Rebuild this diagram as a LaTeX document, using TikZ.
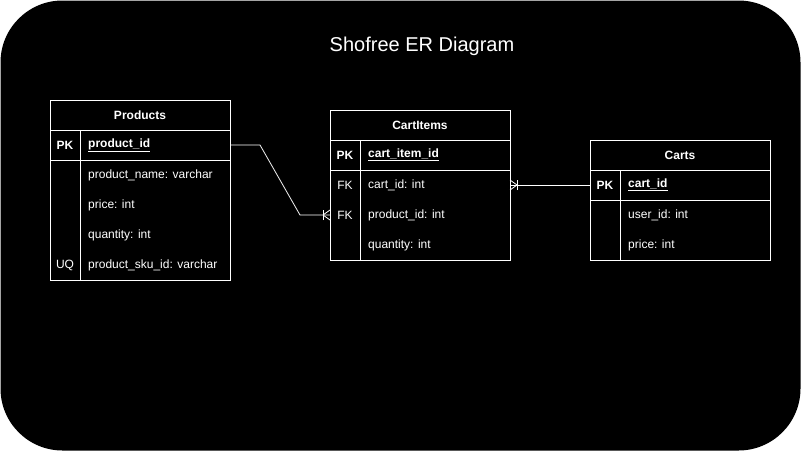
\documentclass[tikz,border=0pt]{standalone}
\usepackage{fontspec}
\setmainfont{Liberation Sans}
\begin{document}
\begin{tikzpicture}[x=1pt,y=-1pt,
  ln/.style={draw=white, line width=1pt},
  rowbox/.style={minimum width=180pt, minimum height=30pt, inner sep=0pt, outer sep=0pt},
  ttl/.style={text=white, font=\fontsize{12}{14}\selectfont\bfseries},
  keytxt/.style={text=white, font=\fontsize{12}{14}\selectfont, anchor=center},
  pktxt/.style={text=white, font=\fontsize{12}{14}\selectfont\bfseries, anchor=center},
  fld/.style={text=white, font=\fontsize{12}{14}\selectfont, anchor=west, inner sep=0pt},
  conn/.style={draw=white, line width=0.8pt}
]
\useasboundingbox (0,0) rectangle (801,451);
\fill[white] (0,0) rectangle (801,451);
\fill[black, rounded corners=62pt] (0.5,0.5) rectangle (800.5,450.5);

\node[text=white, font=\fontsize{20}{24}\selectfont] (title) at (422,46) {Shofree ER Diagram};

% ---------- Products ----------
\node[rowbox] (pt) at (140,115) {};
\node[rowbox] (ppk) at (140,145) {};
\node[rowbox] (pr1) at (140,175) {};
\node[rowbox] (pr2) at (140,205) {};
\node[rowbox] (pr3) at (140,235) {};
\node[rowbox] (pr4) at (140,265) {};
\draw[ln] (50,100) rectangle (230,280);
\draw[ln] (50,130) -- (230,130);
\draw[ln] (50,160) -- (230,160);
\draw[ln] (80,130) -- (80,280);
\node[ttl] (ptl) at (pt) {Products};
\node[pktxt] (ppkk) at (65,145) {PK};
\node[fld, font=\fontsize{12}{14}\selectfont\bfseries] (ppkf) at (88,145) {\underline{product\_id}};
\node[fld] (pf1) at (88,175) {product\_name: varchar};
\node[fld] (pf2) at (88,205) {price: int};
\node[fld] (pf3) at (88,235) {quantity: int};
\node[keytxt] (puq) at (65,265) {UQ};
\node[fld] (pf4) at (88,265) {product\_sku\_id: varchar};

% ---------- CartItems ----------
\node[rowbox] (ct) at (420,125) {};
\node[rowbox] (cpk) at (420,155) {};
\node[rowbox] (cr1) at (420,185) {};
\node[rowbox] (cr2) at (420,215) {};
\node[rowbox] (cr3) at (420,245) {};
\draw[ln] (330,110) rectangle (510,260);
\draw[ln] (330,140) -- (510,140);
\draw[ln] (330,170) -- (510,170);
\draw[ln] (360,140) -- (360,260);
\node[ttl] (ctl) at (ct) {CartItems};
\node[pktxt] (cpkk) at (345,155) {PK};
\node[fld, font=\fontsize{12}{14}\selectfont\bfseries] (cpkf) at (368,155) {\underline{cart\_item\_id}};
\node[keytxt] (cfk1) at (345,185) {FK};
\node[fld] (cf1) at (368,185) {cart\_id: int};
\node[keytxt] (cfk2) at (345,215) {FK};
\node[fld] (cf2) at (368,215) {product\_id: int};
\node[fld] (cf3) at (368,245) {quantity: int};

% ---------- Carts ----------
\node[rowbox] (kt) at (680,155) {};
\node[rowbox] (kpk) at (680,185) {};
\node[rowbox] (kr1) at (680,215) {};
\node[rowbox] (kr2) at (680,245) {};
\draw[ln] (590,140) rectangle (770,260);
\draw[ln] (590,170) -- (770,170);
\draw[ln] (590,200) -- (770,200);
\draw[ln] (620,170) -- (620,260);
\node[ttl] (ktl) at (kt) {Carts};
\node[pktxt] (kpkk) at (605,185) {PK};
\node[fld, font=\fontsize{12}{14}\selectfont\bfseries] (kpkf) at (628,185) {\underline{cart\_id}};
\node[fld] (kf1) at (628,215) {user\_id: int};
\node[fld] (kf2) at (628,245) {price: int};

% ---------- Connectors ----------
\draw[conn] (ppk.east) -- ++(30,0) -- ([xshift=-30pt]cr2.west) -- (cr2.west);
\draw[conn] ([xshift=-7pt]cr2.west) -- ([yshift=-5pt]cr2.west);
\draw[conn] ([xshift=-7pt]cr2.west) -- ([yshift=5pt]cr2.west);
\draw[conn] ([xshift=-7pt,yshift=-5pt]cr2.west) -- ([xshift=-7pt,yshift=5pt]cr2.west);

\draw[conn] (cr1.east) -- (kpk.west);
\draw[conn] ([xshift=7pt]cr1.east) -- ([yshift=-5pt]cr1.east);
\draw[conn] ([xshift=7pt]cr1.east) -- ([yshift=5pt]cr1.east);
\draw[conn] ([xshift=7pt,yshift=-5pt]cr1.east) -- ([xshift=7pt,yshift=5pt]cr1.east);
\end{tikzpicture}
\end{document}
